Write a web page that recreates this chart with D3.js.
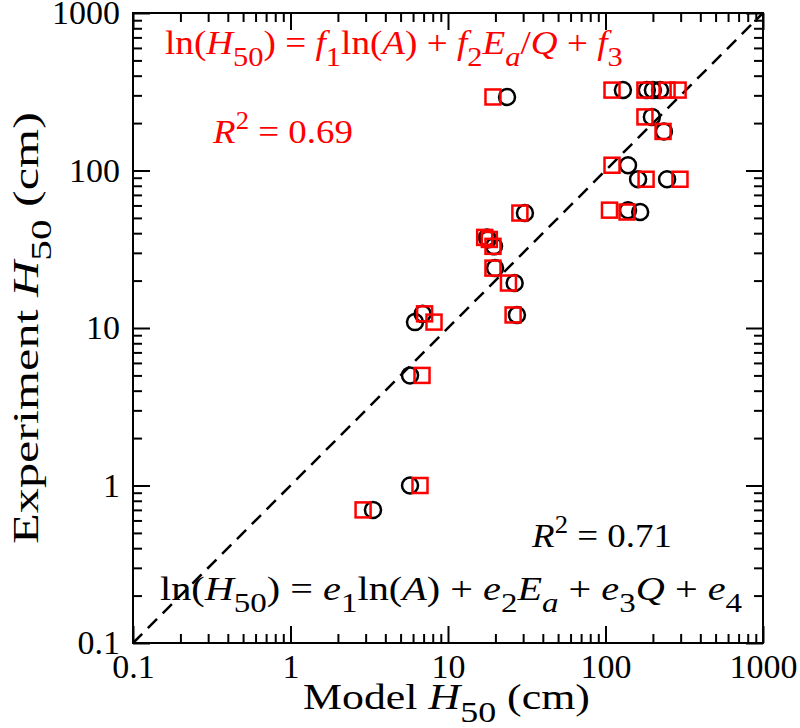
<!DOCTYPE html>
<html>
<head>
<meta charset="utf-8">
<script src="https://cdn.jsdelivr.net/npm/d3@7"></script>
<style>
  body { margin: 0; background: #fff; }
  text { font-family: "Liberation Serif", "Times New Roman", Times, serif; }
</style>
</head>
<body>
<svg id="chart" width="800" height="728"></svg>
<script>
// experiment H50 (cm), shared by both fits
var expH50   = [324, 324, 324, 324, 293, 219, 177, 108, 88, 88, 56, 54.5, 53.7, 37.6, 36.5, 33, 24, 19.3, 12.1, 12.3, 10.9, 5, 1, 0.7];
// model H50 from the e-fit (black circles)
var modelE   = [129, 183, 200, 222, 23.7, 197, 235, 139, 161, 246, 139, 166, 30.8, 17.7, 17.9, 19.6, 19.9, 26.5, 27.4, 6.9, 6.17, 5.74, 5.74, 3.34];
// model H50 from the f-fit (red squares)
var modelF   = [110, 178, 246, 289, 19.3, 178, 232, 110, 181, 297, 106, 137, 28.6, 17.1, 18.3, 19.3, 19.3, 24.2, 25.9, 7.1, 8.15, 6.84, 6.64, 2.89];
var majorTicks = [0.1, 1, 10, 100, 1000];
var tickLabels = ["0.1", "1", "10", "100", "1000"];

var margin = {top: 13, right: 37, bottom: 85, left: 133},
    width = 800 - margin.left - margin.right,
    height = 728 - margin.top - margin.bottom;

var root = d3.select("#chart");
var svg = root.append("g")
    .attr("transform", "translate(" + margin.left + "," + margin.top + ")");

var x = d3.scaleLog().domain([0.1, 1000]).range([0, width]);
var y = d3.scaleLog().domain([0.1, 1000]).range([height, 0]);

// minor ticks 2..9 in each decade
var minorTicks = [];
for (var p = -1; p < 3; p++) {
  for (var k = 2; k <= 9; k++) minorTicks.push(+(k * Math.pow(10, p)).toPrecision(3));
}

function fmt(d) { return tickLabels[majorTicks.indexOf(d)]; }

function addAxis(axis, cls, tr) {
  var g = svg.append("g").attr("class", cls).call(axis);
  if (tr) g.attr("transform", tr);
  g.select(".domain").remove();
  g.selectAll("line").attr("stroke", "#000").attr("stroke-width", 2);
  g.selectAll("text").attr("font-size", 34).attr("fill", "#000");
  return g;
}

// bottom / left with labels
addAxis(d3.axisBottom(x).tickValues(majorTicks).tickSize(-17).tickPadding(11).tickFormat(fmt), "xAxis", "translate(0," + height + ")");
addAxis(d3.axisBottom(x).tickValues(minorTicks).tickSize(-9).tickFormat(""), "xMinor", "translate(0," + height + ")");
addAxis(d3.axisLeft(y).tickValues(majorTicks).tickSize(-17).tickPadding(13).tickFormat(fmt), "yAxis");
addAxis(d3.axisLeft(y).tickValues(minorTicks).tickSize(-9).tickFormat(""), "yMinor");
// top / right mirrors
addAxis(d3.axisTop(x).tickValues(majorTicks).tickSize(-17).tickFormat(""), "xTop");
addAxis(d3.axisTop(x).tickValues(minorTicks).tickSize(-9).tickFormat(""), "xTopMinor");
addAxis(d3.axisRight(y).tickValues(majorTicks).tickSize(-17).tickFormat(""), "yRight", "translate(" + width + ",0)");
addAxis(d3.axisRight(y).tickValues(minorTicks).tickSize(-9).tickFormat(""), "yRightMinor", "translate(" + width + ",0)");

// frame
svg.append("rect")
  .attr("width", width).attr("height", height)
  .attr("fill", "none").attr("stroke", "#000").attr("stroke-width", 2);

// y = x line
svg.append("line")
  .attr("x1", x(0.1)).attr("y1", y(0.1))
  .attr("x2", x(1000)).attr("y2", y(1000))
  .attr("stroke", "#000").attr("stroke-width", 2.5)
  .style("stroke-dasharray", "13, 8");

// circles (e-fit)
svg.selectAll(".ptE")
  .data(expH50)
  .enter().append("circle")
    .attr("class", "ptE")
    .attr("cx", function(d, i) { return x(modelE[i]); })
    .attr("cy", function(d) { return y(d); })
    .attr("r", 8)
    .attr("fill", "none").attr("stroke", "#000").attr("stroke-width", 2.5);

// squares (f-fit)
var s = 15;
svg.selectAll(".ptF")
  .data(expH50)
  .enter().append("rect")
    .attr("class", "ptF")
    .attr("x", function(d, i) { return x(modelF[i]) - s / 2; })
    .attr("y", function(d) { return y(d) - s / 2; })
    .attr("width", s).attr("height", s)
    .attr("fill", "none").attr("stroke", "#ff0000").attr("stroke-width", 2.5);

// text with sub/superscripts
function eq(color, size, parts) {
  var t = root.append("text")
    .attr("x", 0).attr("y", 0)
    .attr("fill", color).attr("font-size", size);
  parts.forEach(function(p) {
    var sp = t.append("tspan").text(p.t);
    if (p.i) sp.attr("font-style", "italic");
    if (p.sub) sp.attr("font-size", size * 0.82).attr("dy", size * 0.36);
    if (p.sup) sp.attr("font-size", size * 0.72).attr("dy", -size * 0.42);
    if (p.back) sp.attr("dy", p.back * size);
  });
  return t;
}
// place and widen a little to the reference's span
function fit(t, x0, y0, w, rot) {
  var b = t.node().getBBox();
  var sx = w / b.width;
  if (rot) {
    t.attr("text-anchor", "middle")
      .attr("transform", "translate(" + x0 + "," + y0 + ") rotate(-90) scale(" + sx + ",1)");
  } else {
    t.attr("transform", "translate(" + x0 + "," + y0 + ") scale(" + sx + ",1) translate(" + (-b.x) + ",0)");
  }
}

fit(eq("#ff0000", 33, [
  {t: "ln("}, {t: "H", i: 1}, {t: "50", sub: 1}, {t: ") = ", back: -0.36},
  {t: "f", i: 1}, {t: "1", sub: 1}, {t: "ln(", back: -0.36}, {t: "A", i: 1}, {t: ") + "},
  {t: "f", i: 1}, {t: "2", sub: 1}, {t: "E", i: 1, back: -0.36}, {t: "a", i: 1, sub: 1},
  {t: "/", back: -0.36}, {t: "Q", i: 1}, {t: " + "}, {t: "f", i: 1}, {t: "3", sub: 1}
]), 165, 54, 458);

fit(eq("#ff0000", 34, [
  {t: "R", i: 1}, {t: "2", sup: 1}, {t: " = 0.69", back: 0.42}
]), 212, 143, 141);

fit(eq("#000", 34, [
  {t: "R", i: 1}, {t: "2", sup: 1}, {t: " = 0.71", back: 0.42}
]), 531, 547, 141);

fit(eq("#000", 33, [
  {t: "ln("}, {t: "H", i: 1}, {t: "50", sub: 1}, {t: ") = ", back: -0.36},
  {t: "e", i: 1}, {t: "1", sub: 1}, {t: "ln(", back: -0.36}, {t: "A", i: 1}, {t: ") + "},
  {t: "e", i: 1}, {t: "2", sub: 1}, {t: "E", i: 1, back: -0.36}, {t: "a", i: 1, sub: 1},
  {t: " + ", back: -0.36}, {t: "e", i: 1}, {t: "3", sub: 1}, {t: "Q", i: 1, back: -0.36},
  {t: " + "}, {t: "e", i: 1}, {t: "4", sub: 1}
]), 160, 600, 583);

// axis titles
var xt = eq("#000", 35, [
  {t: "Model "}, {t: "H", i: 1}, {t: "50", sub: 1}, {t: " (cm)", back: -0.36}
]);
fit(xt, 303, 709, 287);

var yt = eq("#000", 36, [
  {t: "Experiment "}, {t: "H", i: 1}, {t: "50", sub: 1}, {t: " (cm)", back: -0.36}
]).attr("text-anchor", "middle");
fit(yt, 38, margin.top + height / 2, 432, true);
</script>
</body>
</html>
